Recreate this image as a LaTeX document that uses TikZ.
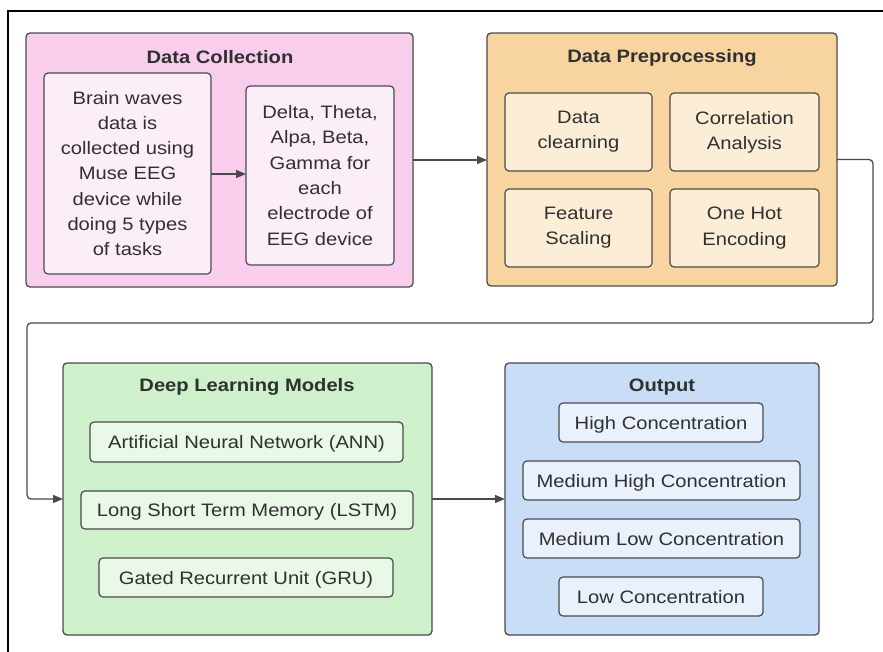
\documentclass[tikz,border=0pt]{standalone}
\usepackage{fontspec}
\setmainfont{Liberation Sans}[FakeStretch=1.12]
\usetikzlibrary{arrows.meta}

\definecolor{pinkOut}{HTML}{F8CEEC}
\definecolor{pinkIn}{HTML}{FCEEF8}
\definecolor{orangeOut}{HTML}{F8D5A0}
\definecolor{orangeIn}{HTML}{FCEDD6}
\definecolor{greenOut}{HTML}{CEF0CB}
\definecolor{greenIn}{HTML}{EAF8E8}
\definecolor{blueOut}{HTML}{C9DDF7}
\definecolor{blueIn}{HTML}{E8F1FC}
\definecolor{edgeGray}{HTML}{4A4A4A}
\definecolor{textGray}{HTML}{303030}

\begin{document}
\begin{tikzpicture}[x=1pt,y=-1pt,
  group/.style={draw=edgeGray, line width=1.3pt, rounded corners=4pt,
    inner sep=0pt, outer sep=0pt},
  item/.style={draw=edgeGray, line width=1.2pt, rounded corners=4pt,
    inner sep=0pt, outer sep=0pt, align=center, text=textGray,
    font=\fontsize{18}{25.3}\selectfont},
  pill/.style={item, text depth=0pt},
  title/.style={text=textGray, font=\fontsize{18}{20}\selectfont\bfseries},
  link/.style={draw=edgeGray, line width=1.3pt,
    -{Triangle[length=10pt,width=8pt]}},
  pipe/.style={draw=edgeGray, line width=1.3pt, rounded corners=4pt,
    -{Triangle[length=10pt,width=8pt]}}]

\clip (0,0) rectangle (883,651);
\fill[white] (0,0) rectangle (883,651);
% outer frame
\draw[black, line width=1.4pt] (8,11) rectangle (900,670);

% ---------- Data Collection ----------
\node[group, fill=pinkOut, minimum width=387pt, minimum height=254pt] (dc) at (219.5,160) {};
\node[title] (dcT) at (220,57) {Data Collection};
\node[item, fill=pinkIn, minimum width=167pt, minimum height=201pt] (b1) at (127.5,173.5)
  {Brain waves\\data is\\collected using\\Muse EEG\\device while\\doing 5 types\\of tasks};
\node[item, fill=pinkIn, minimum width=148pt, minimum height=179pt] (b2) at (320,175.5)
  {Delta, Theta,\\Alpa, Beta,\\Gamma for\\each\\electrode of\\EEG device};

% ---------- Data Preprocessing ----------
\node[group, fill=orangeOut, minimum width=350pt, minimum height=253pt] (dp) at (662,159.5) {};
\node[title] (dpT) at (662,58) {Data Preprocessing};
\node[item, fill=orangeIn, minimum width=147pt, minimum height=78pt] (clean) at (578.5,132) {Data\\clearning};
\node[item, fill=orangeIn, minimum width=149pt, minimum height=78pt] (corr) at (744.5,132) {Correlation\\Analysis};
\node[item, fill=orangeIn, minimum width=147pt, minimum height=78pt] (scale) at (578.5,228) {Feature\\Scaling};
\node[item, fill=orangeIn, minimum width=149pt, minimum height=78pt] (onehot) at (744.5,228) {One Hot\\Encoding};

% ---------- Deep Learning Models ----------
\node[group, fill=greenOut, minimum width=369pt, minimum height=272pt] (dlm) at (247.5,499) {};
\node[title] (dlmT) at (247,387) {Deep Learning Models};
\node[pill, fill=greenIn, minimum width=313pt, minimum height=40pt] (ann) at (246.5,442) {Artificial Neural Network (ANN)};
\node[pill, fill=greenIn, minimum width=332pt, minimum height=38pt] (lstm) at (247,510) {Long Short Term Memory (LSTM)};
\node[pill, fill=greenIn, minimum width=294pt, minimum height=39pt] (gru) at (246,577.5) {Gated Recurrent Unit (GRU)};

% ---------- Output ----------
\node[group, fill=blueOut, minimum width=314pt, minimum height=272pt] (out) at (662,499) {};
\node[title] (outT) at (662,387) {Output};
\node[pill, fill=blueIn, minimum width=204pt, minimum height=39pt] (high) at (661,422.5) {High Concentration};
\node[pill, fill=blueIn, minimum width=277pt, minimum height=39pt] (mhigh) at (661.5,480.5) {Medium High Concentration};
\node[pill, fill=blueIn, minimum width=277pt, minimum height=39pt] (mlow) at (661.5,538.5) {Medium Low Concentration};
\node[pill, fill=blueIn, minimum width=204pt, minimum height=39pt] (low) at (661,596.5) {Low Concentration};

% ---------- connectors ----------
\coordinate (turnR) at (873,323);
\coordinate (turnL) at (27,323);
\draw[link] (b1.east |- 0,174) -- (b2.west |- 0,174);
\draw[link] (dc.east) -- (dc.east -| dp.west);
\draw[pipe] (dp.east) -| (turnR) -- (turnL) |- (dlm.west);
\draw[link] (dlm.east) -- (out.west);
\end{tikzpicture}
\end{document}
